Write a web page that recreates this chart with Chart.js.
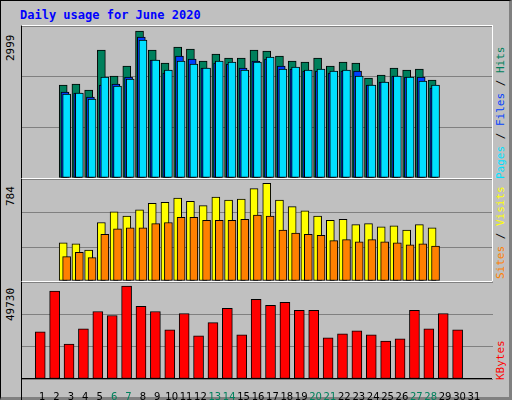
<!DOCTYPE html>
<html>
<head>
<meta charset="utf-8">
<script src="https://cdn.jsdelivr.net/npm/chart.js@4"></script>
<style>
  body { margin: 0; background: #fff; }
  #frame { position: absolute; left: 0; top: 0; width: 508px; height: 396px; background: #c0c0c0;
           border: 1px solid #000; border-right: 3px solid #808080; border-bottom: 3px solid #808080; }
  .panel { position: absolute; left: 20px; width: 470px; border-left: 1px solid #000; border-right: 1px solid #fff; border-top: 1px solid #fff; }
  canvas { position: absolute; left: 0; top: 0; }
  .txt { position: absolute; font-family: 'DejaVu Sans Mono', monospace; font-size: 11px; white-space: nowrap; }
  .rot { transform: rotate(-90deg); transform-origin: left top; }
</style>
</head>
<body>
<div id="frame">
  <div class="txt" style="left:19px;top:7px;color:#0000ff;font-weight:bold;font-size:12px">Daily usage for June 2020</div>
  <div class="panel" style="top:24px;height:152px"><canvas id="top" width="470" height="152"></canvas></div>
  <div class="panel" style="top:177px;height:102px"><canvas id="mid" width="470" height="102"></canvas></div>
  <div class="panel" style="top:280px;height:118px;border-right:none"><canvas id="bot" width="471" height="118"></canvas></div>
  <div style="position:absolute;left:20px;top:377px;width:471px;height:1px;background:#000"></div>
  <div class="txt rot" style="left:3px;top:60px">2999</div>
  <div class="txt rot" style="left:3px;top:205px">784</div>
  <div class="txt rot" style="left:3px;top:320px">49730</div>
  <div class="txt rot" style="left:493px;top:178px"><span style="color:#00e0ff">Pages</span> / <span style="color:#0040ff">Files</span> / <span style="color:#00805c">Hits</span></div>
  <div class="txt rot" style="left:493px;top:278px"><span style="color:#ff8000">Sites</span> / <span style="color:#ffff00">Visits</span></div>
  <div class="txt rot" style="left:493px;top:379px;color:#ff0000">KBytes</div>
</div>
<script>
const days = [1,2,3,4,5,6,7,8,9,10,11,12,13,14,15,16,17,18,19,20,21,22,23,24,25,26,27,28,29,30];
const weekendDays = [6,7,13,14,20,21,27,28];
const hits = [1895,1915,1793,2610,2079,2283,2999,2610,2345,2672,2631,2386,2529,2447,2447,2610,2590,2488,2386,2365,2447,2283,2365,2345,2038,2099,2242,2202,2222,1997];
const files = [1752,1731,1649,1895,1915,2058,2876,2406,2140,2488,2426,2242,2345,2324,2242,2386,2426,2283,2222,2181,2181,2140,2181,2181,1895,1956,2079,2058,2058,1834];
const pages = [1711,1731,1609,2058,1874,2018,2815,2406,2202,2386,2324,2242,2386,2365,2202,2365,2467,2222,2263,2202,2222,2181,2202,2079,1895,1956,2079,2058,1977,1895];
const visits = [307,298,247,469,554,520,571,622,631,665,639,605,673,648,656,741,784,648,597,562,520,486,494,452,460,435,443,409,452,426];
const sites = [196,230,187,375,418,426,426,460,469,511,511,486,486,486,494,528,520,409,384,375,367,324,332,315,332,315,307,290,298,281];
const kbytes = [25229,47008,18694,26862,36118,33940,49730,38840,36118,26317,35029,23050,30129,37751,23595,42652,39385,41018,36663,36663,21961,24139,25773,23595,20328,21417,36663,26862,35029,26317];

const pts = (vals, off) => vals.map((v, i) => ({ x: days[i] + off, y: v }));
// order: higher is drawn first (underneath)
const bar = (label, vals, off, color, w, order) => ({
    label, data: pts(vals, off), backgroundColor: color, borderColor: '#000',
    borderWidth: 1, borderSkipped: false, barThickness: w, grouped: false, order
});

function opts(ymax, showX) {
    const x = {
        type: 'linear', min: 0.13, max: 31.8, display: showX,
        grid: { display: false }, border: { display: false }
    };
    if (showX) {
        x.afterBuildTicks = s => { s.ticks = Array.from({ length: 31 }, (_, i) => ({ value: i + 1 })); };
        x.afterFit = s => { s.height = 21; };
        x.ticks = {
            autoSkip: false, maxRotation: 0, padding: 4,
            font: { family: "'DejaVu Sans', sans-serif", size: 10 },
            color: c => weekendDays.includes(c.tick.value) ? '#00805c' : '#000'
        };
    }
    return {
        responsive: false, animation: false, events: [],
        layout: { padding: 0 },
        plugins: { legend: { display: false }, tooltip: { enabled: false } },
        scales: {
            x,
            y: {
                min: 0, max: ymax, afterFit: s => { s.width = 0; },
                ticks: { display: false, stepSize: ymax / 3 },
                grid: { color: '#808080', drawTicks: false }, border: { display: false }
            }
        }
    };
}

new Chart(document.getElementById('top'), {
    type: 'bar',
    data: { datasets: [
        bar('Hits', hits, -0.27, '#00805c', 8, 3),
        bar('Files', files, -0.13, '#0040ff', 8, 2),
        bar('Pages', pages, 0, '#00e0ff', 8, 1)
    ] },
    options: opts(3101, false)
});

new Chart(document.getElementById('mid'), {
    type: 'bar',
    data: { datasets: [
        bar('Visits', visits, -0.27, '#ffff00', 8, 2),
        bar('Sites', sites, 0, '#ff8000', 8, 1)
    ] },
    options: opts(818, false)
});

new Chart(document.getElementById('bot'), {
    type: 'bar',
    data: { datasets: [ bar('KBytes', kbytes, -0.13, '#ff0000', 10, 1) ] },
    options: opts(51870, true)
});
</script>
</body>
</html>
